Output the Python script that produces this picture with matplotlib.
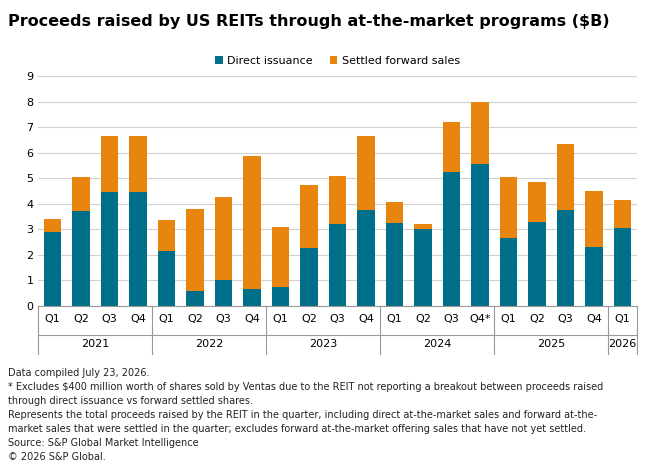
import matplotlib.pyplot as plt
import numpy as np

quarters = ["Q1", "Q2", "Q3", "Q4", "Q1", "Q2", "Q3", "Q4", "Q1", "Q2", "Q3", "Q4",
            "Q1", "Q2", "Q3", "Q4*", "Q1", "Q2", "Q3", "Q4", "Q1"]
years = ["2021", "2022", "2023", "2024", "2025", "2026"]
year_counts = [4, 4, 4, 4, 4, 1]
direct = [2.9, 3.7, 4.45, 4.45, 2.15, 0.6, 1.0, 0.65, 0.75, 2.25, 3.2, 3.75,
          3.25, 3.0, 5.25, 5.55, 2.65, 3.3, 3.75, 2.3, 3.05]
total = [3.4, 5.05, 6.65, 6.65, 3.35, 3.8, 4.25, 5.85, 3.1, 4.75, 5.1, 6.65,
         4.05, 3.2, 7.2, 8.0, 5.05, 4.85, 6.35, 4.5, 4.15]
forward = [t - d for t, d in zip(total, direct)]

teal = "#00708A"
orange = "#E8850F"

fig = plt.figure(figsize=(6.6, 4.72), dpi=100)
ax = fig.add_axes([0.058, 0.352, 0.907, 0.487])
x = np.arange(len(quarters))
ax.bar(x, direct, width=0.62, color=teal, label="Direct issuance")
ax.bar(x, forward, width=0.62, bottom=direct, color=orange, label="Settled forward sales")
ax.set_xlim(-0.5, len(quarters) - 0.5)
ax.set_ylim(0, 9)
ax.set_yticks(range(10))
ax.yaxis.grid(True, color="#d0d0d0", lw=0.8)
ax.set_axisbelow(True)
for s in ["top", "right", "left"]:
    ax.spines[s].set_visible(False)
ax.spines["bottom"].set_color("#999999")
ax.tick_params(axis="y", length=0, labelsize=8)
ax.set_xticks(x)
ax.set_xticklabels(quarters, fontsize=8)
ax.tick_params(axis="x", length=0, pad=6)

# year labels and separators
trans = ax.get_xaxis_transform()
start = 0
bounds = [-0.5]
for yr, n in zip(years, year_counts):
    mid = start + (n - 1) / 2
    ax.text(mid, -0.168, yr, transform=trans, ha="center", va="center", fontsize=8)
    start += n
    bounds.append(start - 0.5)
for b in bounds:
    ax.plot([b, b], [0, -0.21], transform=trans, color="#999999", lw=0.8, clip_on=False)
ax.plot([-0.5, len(quarters) - 0.5], [-0.125, -0.125], transform=trans, color="#999999", lw=0.8, clip_on=False)

ax.legend(loc="lower center", bbox_to_anchor=(0.5, 1.0), ncol=2, frameon=False,
          fontsize=8, handlelength=0.7, handleheight=0.7, columnspacing=1.5, handletextpad=0.4)

fig.text(0.012, 0.955, "Proceeds raised by US REITs through at-the-market programs ($B)",
         fontsize=11.5, fontweight="bold", va="center")
notes = ("Data compiled July 23, 2026.\n"
         "* Excludes $400 million worth of shares sold by Ventas due to the REIT not reporting a breakout between proceeds raised\n"
         "through direct issuance vs forward settled shares.\n"
         "Represents the total proceeds raised by the REIT in the quarter, including direct at-the-market sales and forward at-the-\n"
         "market sales that were settled in the quarter; excludes forward at-the-market offering sales that have not yet settled.\n"
         "Source: S&P Global Market Intelligence\n"
         "© 2026 S&P Global.")
fig.text(0.012, 0.22, notes, fontsize=7, va="top", linespacing=1.5, color="#222222")

fig.savefig("out.png", dpi=100)
